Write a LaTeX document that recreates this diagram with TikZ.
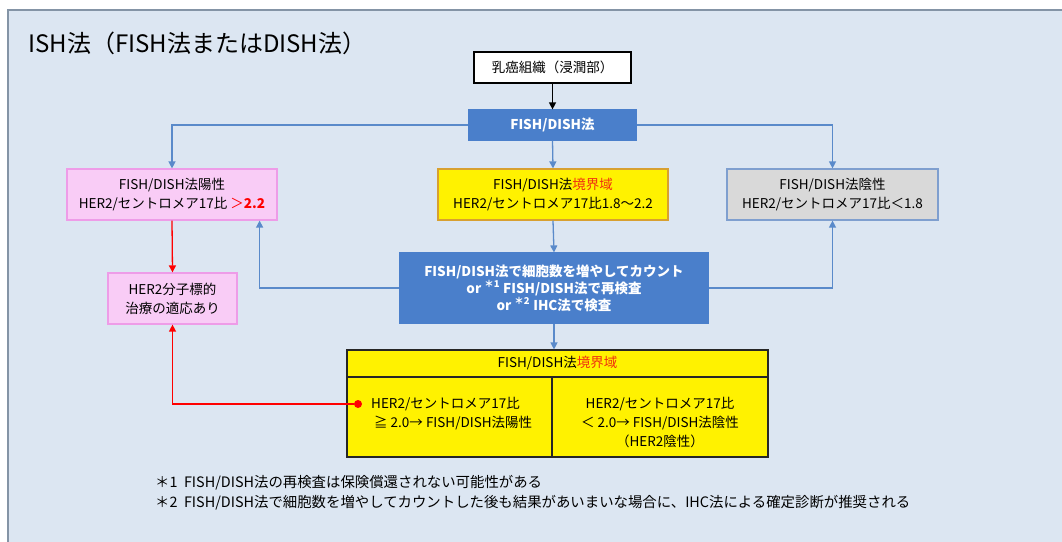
\documentclass[tikz,border=0pt]{standalone}
\usepackage{fontspec}
\setmainfont{Noto Sans CJK JP}
\usetikzlibrary{arrows.meta,calc}
\definecolor{bg}{HTML}{DCE6F2}
\definecolor{frame}{HTML}{8494A6}
\definecolor{bluebox}{HTML}{4A7FCB}
\definecolor{conn}{HTML}{5A8ACA}
\definecolor{pinkfill}{HTML}{F9CCF6}
\definecolor{pinkline}{HTML}{EE9CE8}
\definecolor{yelline}{HTML}{D8A030}
\definecolor{grayfill}{HTML}{D9D9D9}
\definecolor{grayline}{HTML}{7F9FCF}
\definecolor{warn}{HTML}{F03010}
\begin{document}
\begin{tikzpicture}[x=1pt,y=-1pt,
  txt/.style={font=\fontsize{13.5}{19}\selectfont, align=center, inner sep=0pt},
  box/.style={txt, draw, line width=1.2pt, minimum width=#1},
  pinkbox/.style={box=#1, fill=pinkfill, draw=pinkline},
  yelbox/.style={box=#1, fill=yellow, draw=yelline},
  graybox/.style={box=#1, fill=grayfill, draw=grayline},
  bluefill/.style={box=#1, fill=bluebox, draw=bluebox, text=white, font=\fontsize{13.5}{17}\selectfont\bfseries},
  cell/.style={draw=black!85, line width=1.2pt, fill=yellow, inner sep=0pt},
  carrow/.style={draw=conn, line width=1.3pt, -{Triangle[width=7pt,length=7pt]}},
  rarrow/.style={draw=red, line width=1.3pt, -{Triangle[width=7pt,length=7pt]}},
  karrow/.style={draw=black, line width=1.3pt, -{Triangle[width=7pt,length=7pt]}},
  note/.style={anchor=west, inner sep=0pt, font=\fontsize{14.4}{16}\selectfont}
]
\useasboundingbox (0,0) rectangle (1062,541);
\fill[white] (0,0) rectangle (1062,541);
\draw[fill=bg, draw=frame, line width=1.5pt] (8,10) rectangle (1075,555);

\node[anchor=west, inner sep=0pt, font=\fontsize{24}{28}\selectfont] (title) at (28,43) {ISH法（FISH法またはDISH法）};

\node[box=157pt, fill=white, draw=black, minimum height=31pt] (tissue) at (552.5,67.5) {乳癌組織（浸潤部）};
\node[bluefill=167pt, minimum height=30pt] (fish) at (552.5,125) {FISH/DISH法};

\node[pinkbox=210pt, minimum height=51pt] (pos) at (172,194.5) {FISH/DISH法陽性\\HER2/セントロメア17比 {\color{red}＞\textbf{2.2}}};
\node[yelbox=230pt, minimum height=51pt] (mid) at (553,194.5) {FISH/DISH法{\color{warn}境界域}\\HER2/セントロメア17比1.8〜2.2};
\node[graybox=211pt, minimum height=51pt] (neg) at (832.5,194.5) {FISH/DISH法陰性\\HER2/セントロメア17比＜1.8};

\node[bluefill=308pt, minimum height=70pt] (recount) at (554,288) {FISH/DISH法で細胞数を増やしてカウント\\or \textsuperscript{＊1}\ FISH/DISH法で再検査\\or \textsuperscript{＊2}\ IHC法で検査};

\node[pinkbox=129pt, minimum height=51pt] (target) at (172.5,298.5) {HER2分子標的\\治療の適応あり};

% table
\node[cell, minimum width=421pt, minimum height=27pt, txt] (hdr) at (557.5,363.5) {FISH/DISH法{\color{warn}境界域}};
\node[cell, minimum width=205pt, minimum height=80pt] (cellL) at (449.5,417) {};
\node[cell, minimum width=216pt, minimum height=80pt] (cellR) at (660,417) {};
\node[txt, align=left, anchor=west] (tL) at (371,413.5) {HER2/セントロメア17比\\\ ≧ 2.0→ FISH/DISH法陽性};
\node[txt] (tR) at (660,423) {HER2/セントロメア17比\\＜ 2.0→ FISH/DISH法陰性\\（HER2陰性）};
\node[circle, fill=red, inner sep=0pt, minimum size=8pt] (dot) at (358,404) {};

% connectors
\draw[karrow] (tissue.south) -- (fish.north);
\draw[carrow] (fish.west) -| (pos.north);
\draw[carrow] (fish.east) -| (neg.north);
\draw[carrow] (fish.south) -- (mid.north);
\draw[carrow] (mid.south) -- (recount.north);
\coordinate (posin) at ([xshift=-18pt]pos.south east);
\draw[carrow] (recount.west) -| (posin);
\draw[carrow] (recount.east) -| (neg.south);
\draw[carrow] (recount.south) -- (hdr.north -| recount.south);
\draw[rarrow] (pos.south) -- (target.north);
\draw[rarrow] (dot.west) -| (target.south);

% footnotes
\node[note] (fn1) at (155,483) {＊1\ \ FISH/DISH法の再検査は保険償還されない可能性がある};
\node[note] (fn2) at (155,503) {＊2\ \ FISH/DISH法で細胞数を増やしてカウントした後も結果があいまいな場合に、IHC法による確定診断が推奨される};
\end{tikzpicture}
\end{document}
